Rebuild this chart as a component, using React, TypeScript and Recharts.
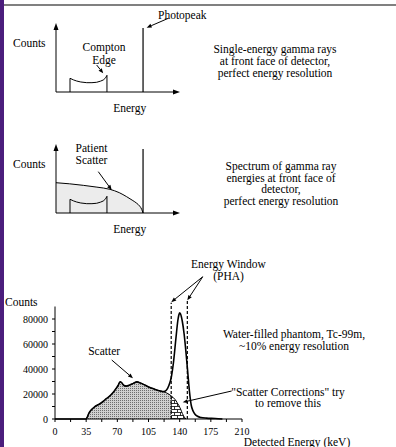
import { Area, ComposedChart, Line, ReferenceLine, XAxis, YAxis } from "recharts";

const FONT = '"Liberation Serif", "Times New Roman", serif';

// Sketches (top two panels): arbitrary units, 0..100 on both axes
const comptonX = [11.3, 11.3, 14, 16.7, 20, 24.8, 29, 32.8, 36, 38.1, 40, 41.1, 41.1];
const comptonY = [0, 19.9, 17.6, 15.9, 14.5, 13.5, 13.5, 14.1, 15.8, 17.4, 20.5, 24.2, 0];
const photopeakX = 70.2;
const photopeakTop = 92.8;
const patientScatterX = [0, 11, 22, 33, 43.5, 51, 57, 62, 65.1, 67.5, 69.1, 70.2];
const patientScatterY = [43.9, 42.3, 40.1, 37.5, 34.3, 29.5, 23.6, 18, 14.1, 10, 5.4, 0];

// Measured spectrum (bottom panel)
const energyKeV = [
  0, 35, 36.5, 38, 41, 45, 50, 54, 58, 62, 65, 68, 71, 73, 75, 77, 80, 84, 88, 92, 96, 100, 104, 108, 112,
  116, 120, 122, 125, 128, 130.5, 133, 136, 138, 139, 140, 141, 143, 145, 147, 149, 151, 153, 155, 157, 160,
  164, 170, 180, 188,
];
const totalCounts = [
  0, 0, 2000, 4500, 7500, 10000, 12000, 14000, 16500, 18700, 21000, 23800, 27000, 29800, 29000, 27000, 26300,
  27200, 28500, 29700, 28800, 27500, 26000, 24800, 23800, 22800, 22100, 21900, 23000, 27000, 33000, 45000,
  66000, 79000, 83000, 85000, 84000, 78000, 68000, 54000, 38000, 22000, 11000, 6500, 4000, 2200, 1200, 700, 400,
  0,
];
const scatterCounts = [
  null, 0, 2000, 4500, 7500, 10000, 12000, 14000, 16500, 18700, 21000, 23800, 27000, 29800, 29000, 27000, 26300,
  27200, 28500, 29700, 28800, 27500, 26000, 24800, 23800, 22800, 22100, 21900, 21000, 19800, 18500, 17000,
  14500, 12000, 11000, 9500, 8000, 4500, 1800, 0, null, null, null, null, null, null, null, null, null, null,
];
const windowLowKeV = 130.5;
const windowHighKeV = 148.6;
const energyTicks = [0, 17.5, 35, 52.5, 70, 87.5, 105, 122.5, 140, 157.5, 175, 192.5, 210];
const countTicks = [0, 10000, 20000, 30000, 40000, 50000, 60000, 70000, 80000];

const comptonRows = comptonX.map((x, i) => ({ x, y: comptonY[i] }));
const photopeakRows = [
  { x: photopeakX, y: 0 },
  { x: photopeakX, y: photopeakTop },
];
const patientRows = patientScatterX.map((x, i) => ({ x, y: patientScatterY[i] }));

const spectrumRows = energyKeV.map((e, i) => {
  const s = scatterCounts[i];
  return {
    e,
    total: totalCounts[i],
    scatterOut: s != null && e <= windowLowKeV ? s : null,
    scatterIn: s != null && e >= windowLowKeV ? s : null,
  };
});

function arrowShape(head: number, half: number) {
  return (p: any) => {
    const { x1, y1, x2, y2 } = p;
    const a = Math.atan2(y2 - y1, x2 - x1);
    const bx = x2 - head * Math.cos(a);
    const by = y2 - head * Math.sin(a);
    const nx = -Math.sin(a) * half;
    const ny = Math.cos(a) * half;
    return (
      <g>
        <line x1={x1} y1={y1} x2={bx} y2={by} stroke="#000" strokeWidth={1} />
        <polygon points={`${x2},${y2} ${bx + nx},${by + ny} ${bx - nx},${by - ny}`} fill="#000" />
      </g>
    );
  };
}

const axisArrow = arrowShape(7, 2.5);
const noteArrow = arrowShape(5, 2);

function Note({ x, y, lines, lh = 12, left = false }: { x: number; y: number; lines: string[]; lh?: number; left?: boolean }) {
  return (
    <div
      style={{
        position: "absolute",
        left: x,
        top: y,
        transform: left ? "translateY(-50%)" : "translate(-50%,-50%)",
        textAlign: left ? "left" : "center",
        fontSize: 11.5,
        lineHeight: `${lh}px`,
        whiteSpace: "nowrap",
        color: "#000",
      }}
    >
      {lines.map((l) => (
        <div key={l}>{l}</div>
      ))}
    </div>
  );
}

function Sketch({ top, withScatter }: { top: number; withScatter?: boolean }) {
  return (
    <div style={{ position: "absolute", left: 0, top }}>
      <ComposedChart width={200} height={110} margin={{ top: 23, right: 20, bottom: 18, left: 56 }}>
        <XAxis type="number" dataKey="x" domain={[0, 100]} hide />
        <YAxis type="number" dataKey="y" domain={[0, 100]} hide />
        {withScatter && (
          <Area
            data={patientRows}
            dataKey="y"
            type="monotone"
            fill="#ececec"
            fillOpacity={1}
            stroke="#000"
            strokeWidth={1}
            isAnimationActive={false}
          />
        )}
        <Line data={comptonRows} dataKey="y" type="linear" stroke="#000" strokeWidth={1} dot={false} isAnimationActive={false} />
        <Line data={photopeakRows} dataKey="y" type="linear" stroke="#000" strokeWidth={1.2} dot={false} isAnimationActive={false} />
        <ReferenceLine segment={[{ x: 0, y: 0 }, { x: 100, y: 0 }]} ifOverflow="visible" shape={axisArrow} />
        <ReferenceLine segment={[{ x: 0, y: 0 }, { x: 0, y: 100 }]} ifOverflow="visible" shape={axisArrow} />
        {withScatter ? (
          <ReferenceLine segment={[{ x: 34.1, y: 59.9 }, { x: 44.9, y: 33.3 }]} ifOverflow="visible" shape={noteArrow} />
        ) : (
          <>
            <ReferenceLine segment={[{ x: 32.8, y: 39.1 }, { x: 38.1, y: 27.1 }]} ifOverflow="visible" shape={noteArrow} />
            <ReferenceLine segment={[{ x: 90.6, y: 106.8 }, { x: 73.1, y: 93.2 }]} ifOverflow="visible" shape={noteArrow} />
          </>
        )}
      </ComposedChart>
    </div>
  );
}

export default function App() {
  return (
    <div
      style={{
        position: "absolute",
        left: 0,
        top: 0,
        width: 396,
        height: 447,
        background: "#fff",
        overflow: "hidden",
        fontFamily: FONT,
      }}
    >
      <div style={{ position: "absolute", left: 0, top: 0, width: 4, height: 447, background: "#4b1d7c" }} />
      <div style={{ position: "absolute", left: 4, top: 4, width: 392, height: 2, background: "#808080" }} />

      <Sketch top={0} />
      <Sketch top={121} withScatter />

      <div style={{ position: "absolute", left: 0, top: 250 }}>
        <ComposedChart width={396} height={197} data={spectrumRows} margin={{ top: 56.5, right: 154, bottom: 8, left: 0 }}>
          <defs>
            <pattern id="stipple" patternUnits="userSpaceOnUse" width={2} height={2}>
              <rect width={2} height={2} fill="#d0d0d0" />
              <rect width={1} height={1} fill="#6e6e6e" />
            </pattern>
            <pattern id="brick" patternUnits="userSpaceOnUse" width={6} height={6}>
              <rect width={6} height={6} fill="#fff" />
              <path d="M0 0.5H6M0 3.5H6M0.5 0.5V3.5M3.5 3.5V6" stroke="#000" strokeWidth={0.8} />
            </pattern>
          </defs>
          <XAxis
            type="number"
            dataKey="e"
            domain={[0, 210]}
            ticks={energyTicks}
            interval={0}
            tickFormatter={(v: number) => (v % 35 === 0 ? String(v) : "")}
            height={20}
            tickSize={3}
            tickMargin={6}
            stroke="#000"
            tick={{ fill: "#000", fontSize: 10 }}
          />
          <YAxis
            type="number"
            domain={[0, 90000]}
            ticks={countTicks}
            interval={0}
            tickFormatter={(v: number) => (v % 20000 === 0 ? String(v) : "")}
            width={55}
            tickSize={3}
            tickMargin={4}
            stroke="#000"
            tick={{ fill: "#000", fontSize: 10 }}
          />
          <Area dataKey="scatterOut" type="monotone" fill="url(#stipple)" fillOpacity={1} stroke="#000" strokeWidth={1} isAnimationActive={false} />
          <Area dataKey="scatterIn" type="monotone" fill="url(#brick)" fillOpacity={1} stroke="#000" strokeWidth={1} isAnimationActive={false} />
          <Line dataKey="total" type="monotone" stroke="#000" strokeWidth={1.6} dot={false} isAnimationActive={false} />
          <ReferenceLine
            segment={[{ x: windowLowKeV, y: 0 }, { x: windowLowKeV, y: 93000 }]}
            ifOverflow="visible"
            stroke="#000"
            strokeWidth={1.2}
            strokeDasharray="3 2"
          />
          <ReferenceLine
            segment={[{ x: windowHighKeV, y: 0 }, { x: windowHighKeV, y: 94600 }]}
            ifOverflow="visible"
            stroke="#000"
            strokeWidth={1.2}
            strokeDasharray="3 2"
          />
          <ReferenceLine segment={[{ x: 165.9, y: 113800 }, { x: windowLowKeV, y: 93500 }]} ifOverflow="visible" shape={noteArrow} />
          <ReferenceLine segment={[{ x: 165.9, y: 113800 }, { x: windowHighKeV, y: 95000 }]} ifOverflow="visible" shape={noteArrow} />
          <ReferenceLine segment={[{ x: 63.7, y: 47200 }, { x: 87.6, y: 32600 }]} ifOverflow="visible" shape={noteArrow} />
          <ReferenceLine segment={[{ x: 198.4, y: 22400 }, { x: 143.4, y: 13400 }]} ifOverflow="visible" shape={noteArrow} />
        </ComposedChart>
      </div>

      {/* top panel */}
      <Note x={13} y={42.7} lines={["Counts"]} left />
      <Note x={104} y={53.5} lines={["Compton", "Edge"]} lh={13} />
      <Note x={158} y={15} lines={["Photopeak"]} left />
      <Note x={129.7} y={108} lines={["Energy"]} />
      <Note
        x={275}
        y={62.4}
        lh={11.8}
        lines={["Single-energy gamma rays", "at front face of detector,", "perfect energy resolution"]}
      />

      {/* middle panel */}
      <Note x={13} y={164} lines={["Counts"]} left />
      <Note x={91.5} y={155} lines={["Patient", "Scatter"]} lh={11.6} />
      <Note x={129.7} y={229.3} lines={["Energy"]} />
      <Note
        x={281}
        y={184.3}
        lh={11.6}
        lines={["Spectrum of gamma ray", "energies at front face of", "detector,", "perfect energy resolution"]}
      />

      {/* bottom panel */}
      <Note x={5} y={301.7} lines={["Counts"]} left />
      <Note x={228.5} y={271} lh={11.6} lines={["Energy Window", "(PHA)"]} />
      <Note x={104.2} y={350.7} lines={["Scatter"]} />
      <Note x={294} y={340.8} lh={11.7} lines={["Water-filled phantom, Tc-99m,", "~10% energy resolution"]} />
      <Note x={288} y={398.7} lh={11.6} lines={['"Scatter Corrections" try', "to remove this"]} />
      <Note x={297} y={441.5} lh={10} lines={["Detected Energy (keV)"]} />
    </div>
  );
}
